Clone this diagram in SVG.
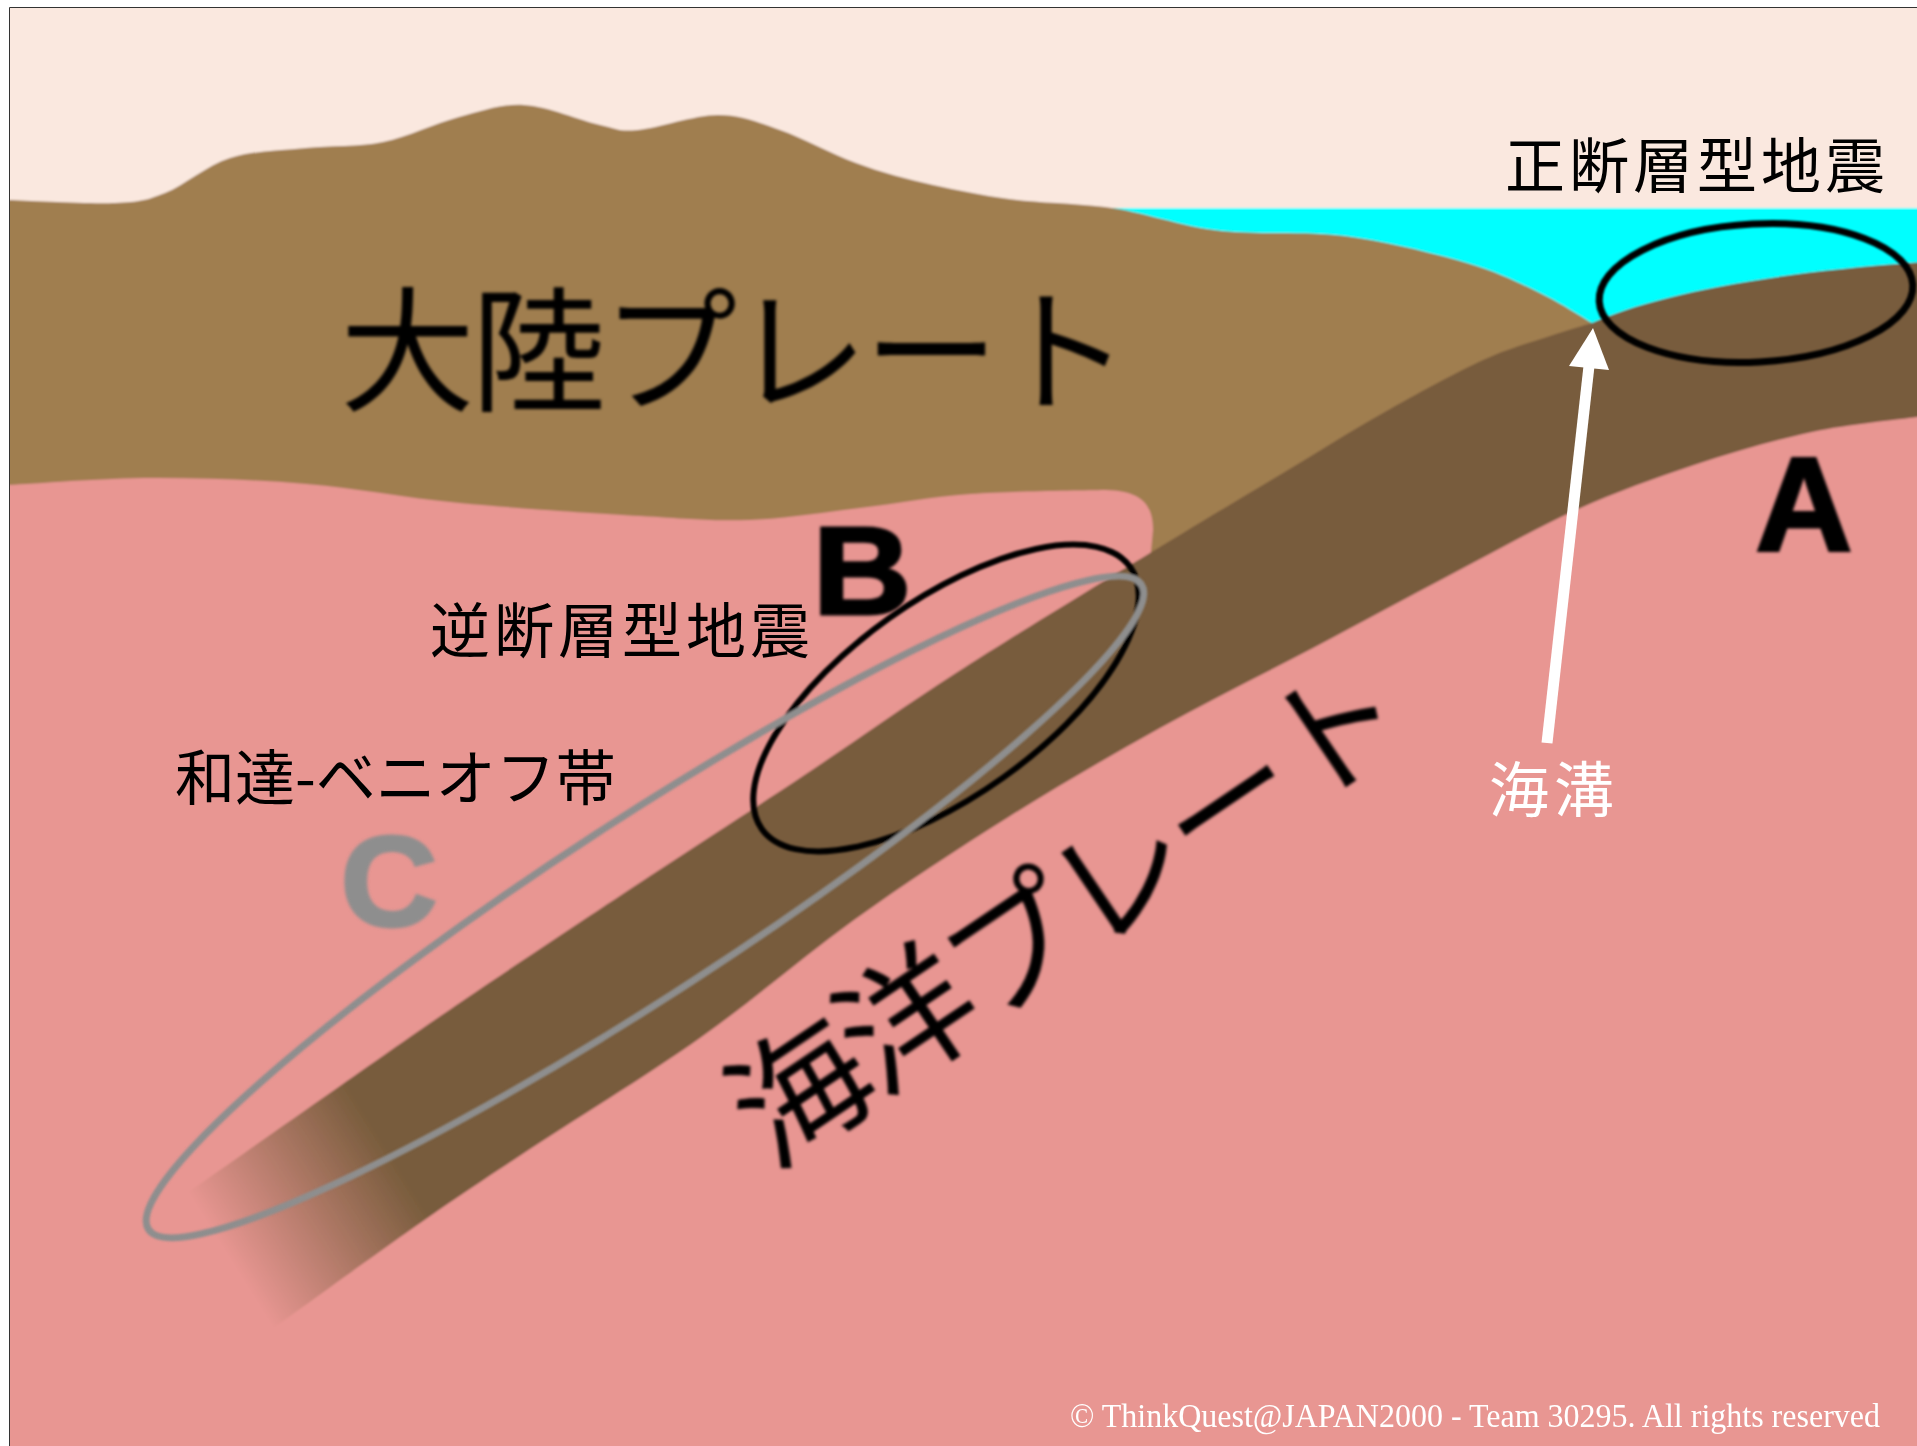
<svg xmlns="http://www.w3.org/2000/svg" width="1917" height="1446" viewBox="0 0 1917 1446">
  <defs>
    <style>
      .jp { font-family: "Noto Sans CJK JP", "Noto Sans CJK SC", sans-serif; }
      .label { font-size: 60px; fill: #000; letter-spacing: 4px; }
      .big { font-size: 135px; fill: #000; }
      .mark { font-family: "Liberation Sans", Arial, sans-serif; font-weight: bold; }
      .zone { fill: none; }
    </style>
    <clipPath id="frame">
      <rect x="9.5" y="7.5" width="1908" height="1439"/>
    </clipPath>
    <filter id="soft" x="-2%" y="-2%" width="104%" height="104%">
      <feGaussianBlur stdDeviation="1"/>
    </filter>
    <filter id="softText" x="-10%" y="-20%" width="120%" height="140%">
      <feGaussianBlur stdDeviation="1.4"/>
    </filter>
    <!-- the sinking slab fades out at its deep end -->
    <linearGradient id="slabFade" gradientUnits="userSpaceOnUse" x1="388" y1="1150" x2="225" y2="1252">
      <stop offset="0" stop-color="#785C3C"/>
      <stop offset="1" stop-color="#785C3C" stop-opacity="0"/>
    </linearGradient>
  </defs>

  <rect width="1917" height="1446" fill="#fff"/>

  <g clip-path="url(#frame)">
    <g id="terrain" filter="url(#soft)">
      <rect id="sky" x="-20" y="-20" width="1960" height="1490" fill="#FAE8DF"/>
      <rect id="sea" x="1040" y="208" width="900" height="150" fill="#00FFFF"/>
      <rect id="mantle" x="-20" y="400" width="1960" height="1070" fill="#E89692"/>
      <path id="continental-plate" fill="#A07E50" d="M-20,199 L9,200 C26.7,200.5 89,204.2 115,203 C141,201.8 145.8,200.5 165,193 C184.2,185.5 206.5,165.5 230,158 C253.5,150.5 280.5,150.7 306,148 C331.5,145.3 357.5,147.2 383,142 C408.5,136.8 435.5,123.2 459,117 C482.5,110.8 500.5,103.7 524,105 C547.5,106.3 581,120.8 600,125 C619,129.2 618.3,131.7 638,130 C657.7,128.3 694.3,115 718,115 C741.7,115 757,122 780,130 C803,138 830.5,153.5 856,163 C881.5,172.5 907.5,179.5 933,185 C958.5,190.5 980.3,195 1009,199 C1037.7,203 1069.5,203 1105,207 C1140.5,211 1182,227 1222,231 C1262,235 1304.2,230.7 1345,236 C1385.8,241.3 1434.5,253.5 1467,263 C1499.5,272.5 1519.2,283 1540,293 C1560.8,303 1583.3,318 1592,323 L1150,562 L1153,530 C1153,503 1140,491 1105,490 C1082.7,490.7 1011.8,491 971,494 C930.2,497 896.8,503.7 860,508 C823.2,512.3 786.7,518.7 750,520 C713.3,521.3 688.5,518.8 640,516 C591.5,513.2 514.7,508.3 459,503 C403.3,497.7 357,488.2 306,484 C255,479.8 202.5,477.8 153,478 C103.5,478.2 33,483.8 9,485 L-20,486 Z"/>
      <path id="oceanic-plate" fill="url(#slabFade)" d="M1592,323 C1650,297 1760,272 1940,261 L1940,416 L1917,417 C1899.5,419.5 1849.2,424 1812,432 C1774.8,440 1733.3,452 1694,465 C1654.7,478 1616.7,491.7 1576,510 C1535.3,528.3 1493.8,552 1450,575 C1406.2,598 1361.3,622.5 1313,648 C1264.7,673.5 1211,699.7 1160,728 C1109,756.3 1058,786 1007,818 C956,850 905.2,883.3 854,920 C802.8,956.7 755.5,998.8 700,1038 C644.5,1077.2 570,1122.5 521,1155 C472,1187.5 453.7,1199.5 406,1233 C358.3,1266.5 263.5,1335.5 235,1356 L150,1219 C180,1198 277.7,1129.5 330,1093 C382.3,1056.5 410.7,1036.2 464,1000 C517.3,963.8 593.5,913.3 650,876 C706.5,838.7 752,809.8 803,776 C854,742.2 898.2,710.2 956,673 C1013.8,635.8 1095.5,586.3 1150,553 C1204.5,519.7 1244.2,496.3 1283,473 C1321.8,449.7 1349.7,431.8 1383,413 C1416.3,394.2 1455.2,372.8 1483,360 C1510.8,347.2 1531.8,342.2 1550,336 C1568.2,329.8 1585,325.2 1592,323 Z"/>
    </g>

    <!-- plate names -->
    <g id="plate-names" class="jp" filter="url(#softText)">
      <text id="continental-name" class="big" x="340" y="401" style="letter-spacing:-4px">大陸プレート</text>
      <g transform="translate(1064,911) rotate(-34)">
        <text id="oceanic-name" class="big" x="0" y="51" text-anchor="middle" style="letter-spacing:-6px">海洋プレート</text>
      </g>
    </g>

    <!-- earthquake zones -->
    <g id="zones" class="zone" filter="url(#soft)">
      <ellipse id="zone-A" cx="1756" cy="293" rx="157" ry="69" transform="rotate(-3 1756 293)" stroke="#000" stroke-width="7"/>
      <ellipse id="zone-B" cx="946" cy="698" rx="226" ry="98" transform="rotate(-35.4 946 698)" stroke="#000" stroke-width="6"/>
      <ellipse id="zone-C" cx="645" cy="907" rx="592" ry="88" transform="rotate(-33 645 907)" stroke="#8E8E8E" stroke-width="7"/>
    </g>

    <g id="zone-letters" class="mark" filter="url(#softText)">
      <text id="letter-A" x="1804" y="551" font-size="134" text-anchor="middle" fill="#000" stroke="#000" stroke-width="3">A</text>
      <g transform="translate(862,614) scale(1.1,1)">
        <text id="letter-B" x="0" y="0" font-size="124" text-anchor="middle" fill="#000" stroke="#000" stroke-width="3">B</text>
      </g>
      <g transform="translate(389,926) scale(1.05,1)">
        <text id="letter-C" x="0" y="0" font-size="128" text-anchor="middle" fill="#8E8E8E" stroke="#8E8E8E" stroke-width="3">C</text>
      </g>
    </g>

    <!-- trench pointer -->
    <g id="trench-arrow" fill="#fff">
      <line x1="1547" y1="743" x2="1589" y2="366" stroke="#fff" stroke-width="11"/>
      <polygon points="1593,328 1609,370 1569,366"/>
    </g>

    <g id="labels" class="jp">
      <text id="label-normal" class="label" x="1505" y="188">正断層型地震</text>
      <text id="label-reverse" class="label" x="430" y="653">逆断層型地震</text>
      <text id="label-wadati" class="label" x="175" y="800" style="letter-spacing:0">和達-ベニオフ帯</text>
      <text id="label-trench" class="label" x="1489" y="812" style="fill:#fff;letter-spacing:5px">海溝</text>
    </g>

    <text id="copyright" x="1070" y="1427" font-family="'Liberation Serif', 'Times New Roman', serif" font-size="33" fill="#fff" textLength="810" lengthAdjust="spacingAndGlyphs">© ThinkQuest@JAPAN2000 - Team 30295. All rights reserved</text>
  </g>

  <path d="M9.5,1446 V7.5 H1917" fill="none" stroke="#333" stroke-width="1"/>
</svg>
